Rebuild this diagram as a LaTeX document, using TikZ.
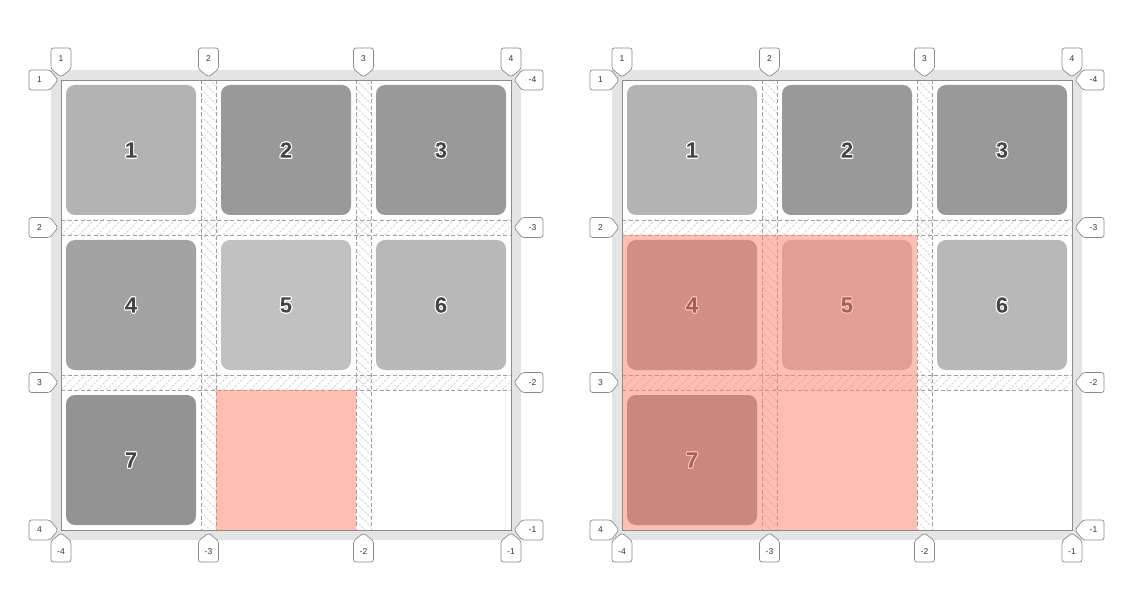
\documentclass[tikz,border=0pt]{standalone}
\usepackage{fontspec}
\setmainfont{Liberation Sans}
\definecolor{framec}{HTML}{E4E4E4}
\definecolor{borderc}{HTML}{8C8C8C}
\definecolor{dashc}{HTML}{A0A0A0}
\definecolor{hatchc}{HTML}{D4D4D4}
\definecolor{overc}{RGB}{255,127,103}
\definecolor{numc}{HTML}{454545}
\definecolor{tagc}{HTML}{8A8A8A}
\definecolor{gA}{HTML}{B3B3B3}
\definecolor{gB}{HTML}{999999}
\definecolor{gC}{HTML}{A3A3A3}
\definecolor{gD}{HTML}{C1C1C1}
\definecolor{gE}{HTML}{B8B8B8}
\definecolor{gF}{HTML}{939393}
% one text: white stroke + clip to the glyph, then fill the glyph dark
\newcommand\outlined[1]{\special{pdf:literal direct 1 1 1 RG 2.4 w 1 j 5 Tr}#1\special{pdf:literal direct 0 Tr}\special{pdf:literal 0.27 0.27 0.27 rg -40 -40 80 80 re f}}
\tikzset{
  tagline/.style={draw=tagc, fill=white, line width=0.7pt, rounded corners=2.5pt},
  tagtext/.style={inner sep=0pt, font=\fontsize{8.5}{9}\selectfont, text=black!80},
  gridbox/.style={rounded corners=9pt, minimum width=130pt, minimum height=130pt, inner sep=0pt, draw=none},
  numd/.style={inner sep=0pt, font=\fontsize{22}{22}\selectfont\bfseries, text=numc},
  hatch/.style={draw=hatchc, line width=0.8pt, dash pattern=on 2.5pt off 1.5pt},
  gapline/.style={draw=dashc, line width=0.8pt, dash pattern=on 4pt off 2.5pt},
  over/.style={fill=overc, fill opacity=0.5},
}
% tags: name, x, y (tip), text
\newcommand\tagT[4]{\path[tagline] (#2,#3) -- ++(10,-8) -- ++(0,-21) -- ++(-20,0) -- ++(0,21) -- cycle;
  \node[tagtext] (#1) at (#2,#3-18.5) {#4};}
\newcommand\tagB[4]{\path[tagline] (#2,#3) -- ++(10,8) -- ++(0,21) -- ++(-20,0) -- ++(0,-21) -- cycle;
  \node[tagtext] (#1) at (#2,#3+18.5) {#4};}
\newcommand\tagL[4]{\path[tagline] (#2,#3) -- ++(-8,-10) -- ++(-21,0) -- ++(0,20) -- ++(21,0) -- cycle;
  \node[tagtext] (#1) at (#2-18.5,#3) {#4};}
\newcommand\tagR[4]{\path[tagline] (#2,#3) -- ++(8,-10) -- ++(21,0) -- ++(0,20) -- ++(-21,0) -- cycle;
  \node[tagtext] (#1) at (#2+18.5,#3) {#4};}
% box: name, cx, cy, colour, number
\newcommand\gbox[5]{\node[gridbox, fill=#4] (#1) at (#2,#3) {};
  \node[numd] (#1n) at (#1.center) {\outlined{#5}};}
\newcommand\gridbase[1]{%
  \fill[framec] (51,70) rectangle (521,540);
  \fill[white] (61,80) rectangle (511,530);
  % hatching vertical gaps
  \foreach \xa/\xb in {201/216,356/371}{
    \begin{scope}
      \clip (\xa,80) rectangle (\xb,530);
      \foreach \t in {62,71,...,530}{\draw[hatch] (\xa,\t) -- ++(20,20);}
    \end{scope}}
  % hatching horizontal gaps
  \foreach \ya/\yb in {220/235,375/390}{
    \begin{scope}
      \clip (61,\ya) rectangle (511,\yb);
      \foreach \t in {43,52,...,515}{\draw[hatch] (\t,\yb) -- ++(20,-20);}
    \end{scope}}
  \foreach \x in {201,216,356,371}{\draw[gapline] (\x,80) -- (\x,530);}
  \foreach \y in {220,235,375,390}{\draw[gapline] (61,\y) -- (511,\y);}
  \gbox{#1b1}{131}{150}{gA}{1}
  \gbox{#1b2}{286}{150}{gB}{2}
  \gbox{#1b3}{441}{150}{gB}{3}
  \gbox{#1b4}{131}{305}{gC}{4}
  \gbox{#1b5}{286}{305}{gD}{5}
  \gbox{#1b6}{441}{305}{gE}{6}
  \gbox{#1b7}{131}{460}{gF}{7}
}
\newcommand\gridtags[1]{%
  \draw[borderc, line width=0.9pt] (61,80) rectangle (511,530);
  \tagT{#1t1}{61}{77}{1}
  \tagT{#1t2}{208.5}{77}{2}
  \tagT{#1t3}{363.5}{77}{3}
  \tagT{#1t4}{511}{77}{4}
  \tagB{#1u1}{61}{533}{-4}
  \tagB{#1u2}{208.5}{533}{-3}
  \tagB{#1u3}{363.5}{533}{-2}
  \tagB{#1u4}{511}{533}{-1}
  \tagL{#1l1}{58}{80}{1}
  \tagL{#1l2}{58}{227.5}{2}
  \tagL{#1l3}{58}{382.5}{3}
  \tagL{#1l4}{58}{530}{4}
  \tagR{#1r1}{514}{80}{-4}
  \tagR{#1r2}{514}{227.5}{-3}
  \tagR{#1r3}{514}{382.5}{-2}
  \tagR{#1r4}{514}{530}{-1}
}
\begin{document}
\begin{tikzpicture}[x=1pt,y=-1pt]
  \useasboundingbox[fill=white] (0,0) rectangle (1132,612);
  \begin{scope}
    \gridbase{A}
    \fill[over] (216,390) rectangle (356,530);
    \gridtags{A}
  \end{scope}
  \begin{scope}[xshift=561pt]
    \gridbase{B}
    \fill[over] (61,235) rectangle (356,530);
    \gridtags{B}
  \end{scope}
\end{tikzpicture}
\end{document}
